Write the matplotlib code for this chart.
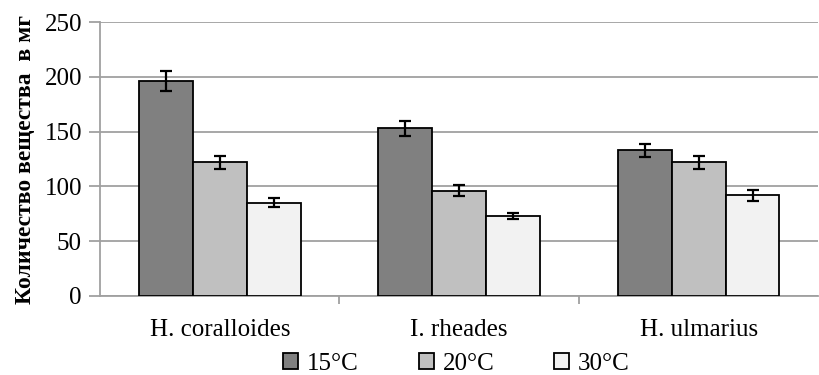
import numpy as np
import matplotlib.pyplot as plt

species = ['H. coralloides', 'I. rheades', 'H. ulmarius']
temps = ['15°C', '20°C', '30°C']
vals_15 = [196, 153, 133]
vals_20 = [122, 96, 122]
vals_30 = [85, 73, 92]
err_15 = [9, 7, 6]
err_20 = [6, 5, 6]
err_30 = [4, 3, 5]
colors = ['#808080', '#c0c0c0', '#f2f2f2']

plt.rcParams['font.family'] = ['Liberation Serif', 'DejaVu Serif']

fig = plt.figure(figsize=(8.2, 3.75), dpi=100)
ax = fig.add_axes([0.122, 0.211, 0.876, 0.730])

x = np.arange(len(species))
w = 0.225
for i, (v, e) in enumerate([(vals_15, err_15), (vals_20, err_20), (vals_30, err_30)]):
    ax.bar(x + (i - 1) * w, v, w, color=colors[i], edgecolor='black', linewidth=1.3,
           label=temps[i], zorder=3,
           yerr=e, error_kw=dict(ecolor='black', elinewidth=1.6, capsize=4, capthick=1.6, zorder=4))

ax.set_ylim(0, 250)
ax.set_xlim(-0.5, 2.5)
ax.set_yticks(range(0, 251, 50))
ax.yaxis.grid(True, color='#a0a0a0', linewidth=1.3, zorder=0)
ax.set_axisbelow(True)
for s in ['top', 'right']:
    ax.spines[s].set_visible(False)
ax.spines['left'].set_color('#a0a0a0')
ax.spines['bottom'].set_color('#a0a0a0')
ax.spines['left'].set_linewidth(1.3)
ax.spines['bottom'].set_linewidth(1.3)

ax.set_xticks([0.5, 1.5])
ax.set_xticklabels([])
ax.set_xticks(x, minor=True)
ax.set_xticklabels(species, minor=True, fontsize=18)
ax.tick_params(axis='x', which='minor', length=0, pad=17)
ax.tick_params(axis='x', which='major', length=6, color='#a0a0a0', width=1.3)
ax.tick_params(axis='y', length=8, color='#a0a0a0', width=1.3, labelsize=18, pad=5)

ax.set_ylabel('Количество вещества  в мг', fontsize=17, fontweight='bold', labelpad=6)

fig.legend(loc='lower center', bbox_to_anchor=(0.557, -0.06), ncol=3, frameon=False,
           fontsize=18, handlelength=0.6, handleheight=0.6, columnspacing=2.4,
           handletextpad=0.35)

fig.savefig('out.png', dpi=100)
